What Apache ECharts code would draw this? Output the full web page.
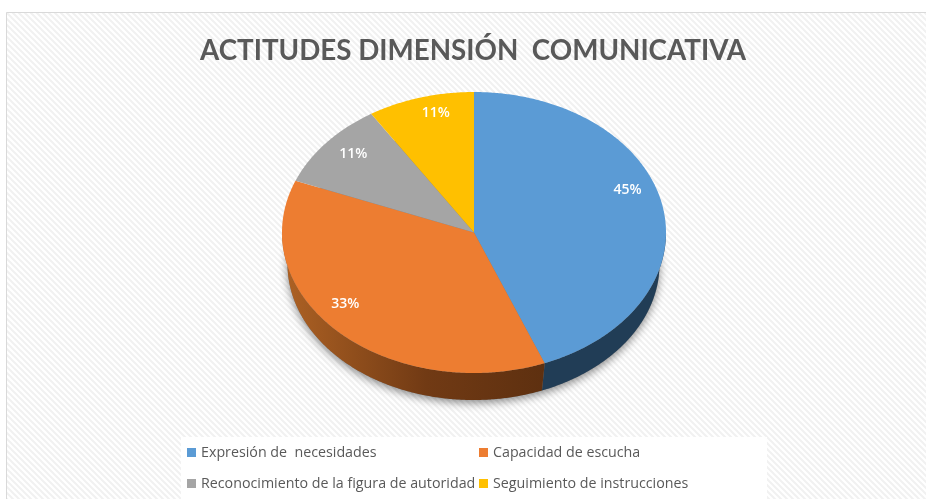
<!DOCTYPE html>
<html>
<head>
<meta charset="utf-8">
<style>html,body{margin:0;padding:0;background:#fff}#c{width:926px;height:499px}</style>
<script src="https://cdn.jsdelivr.net/npm/echarts@6/dist/echarts.min.js"></script>
</head>
<body>
<div id="c"></div>
<script>
// Data
const categories = ['Expresión de  necesidades', 'Capacidad de escucha', 'Reconocimiento de la figura de autoridad', 'Seguimiento de instrucciones'];
const printedPercent = [45, 33, 11, 11];   // labels printed on the slices
const drawnShare = [44, 37, 10, 9];        // slice sweep as drawn in the tilted pie
const colors = ['#5B9BD5', '#ED7D31', '#A5A5A5', '#FFC000'];
const titleText = 'ACTITUDES DIMENSIÓN  COMUNICATIVA';

// Layout
const TOP = {cx: 474, cy: 232.5, rx: 192, ry: 140.5};
const BASE = {cx: 473.5, cy: 264, rx: 186, ry: 136};
const labelRadius = [0.855, 0.84, 0.84, 0.87];
const labelAngleShift = [-10, 8, 2, 3];
const sideFills = [
  '#213D56',
  {type: 'linear', x: 0, y: 0, x2: 1, y2: 0, colorStops: [
    {offset: 0, color: '#AE6224'}, {offset: 0.55, color: '#713A14'}, {offset: 1, color: '#5E3010'}]},
  '#63635F', '#7F6000'
];

const total = drawnShare.reduce((a, b) => a + b, 0);
const pt = (e, deg, k = 1) => {
  const a = deg * Math.PI / 180;
  return [e.cx + e.rx * k * Math.sin(a), e.cy - e.ry * k * Math.cos(a)];
};
const arc = (e, from, to) => {
  const out = [], n = Math.max(2, Math.ceil(Math.abs(to - from) * 2));
  for (let i = 0; i <= n; i++) out.push(pt(e, from + (to - from) * i / n));
  return out;
};

function makeSeries(name, idx) {
  const startDeg = drawnShare.slice(0, idx).reduce((a, b) => a + b, 0) / total * 360;
  return {
    type: 'custom', name, coordinateSystem: 'none', silent: true,
    itemStyle: {color: colors[idx]},
    data: [[drawnShare[idx]]],
    renderItem(params, api) {
      const sweep = api.value(0) / total * 360, endDeg = startDeg + sweep;
      const children = [];
      if (idx === 0) {
        children.push({type: 'polygon', shape: {points: arc(BASE, 0, 360)},
          style: {fill: '#7a7a7a', shadowBlur: 9, shadowColor: 'rgba(0,0,0,0.45)', shadowOffsetY: 3}});
      }
      const visFrom = Math.max(startDeg, 90), visTo = Math.min(endDeg, 270);
      if (visTo > visFrom) {
        children.push({type: 'polygon',
          shape: {points: arc(TOP, visFrom, visTo).concat(arc(BASE, visTo, visFrom))},
          style: {fill: sideFills[idx]}});
      }
      children.push({type: 'polygon',
        shape: {points: [[TOP.cx, TOP.cy]].concat(arc(TOP, startDeg, endDeg))},
        style: {fill: colors[idx]}});
      const [lx, ly] = pt(TOP, startDeg + sweep / 2 + labelAngleShift[idx], labelRadius[idx]);
      children.push({type: 'text', x: lx, y: ly,
        style: {text: printedPercent[idx] + '%', fill: '#fff', align: 'center', verticalAlign: 'middle',
          font: '600 14px "Open Sans"'}});
      return {type: 'group', children};
    }
  };
}

const hatch = document.createElement('canvas');
hatch.width = hatch.height = 6;
(function () {
  const g = hatch.getContext('2d');
  g.fillStyle = '#ffffff'; g.fillRect(0, 0, 6, 6);
  g.strokeStyle = '#f1f1f1'; g.lineWidth = 2;
  g.beginPath();
  g.moveTo(-1, -1); g.lineTo(7, 7);
  g.moveTo(-1, 5); g.lineTo(1, 7);
  g.moveTo(5, -1); g.lineTo(7, 1);
  g.stroke();
})();

const legendBase = {orient: 'vertical', top: 444, itemWidth: 9, itemHeight: 9, itemGap: 14, icon: 'rect',
  textStyle: {color: '#595959', fontFamily: '"Open Sans"', fontSize: 14.25, lineHeight: 17}, selectedMode: false, padding: 0};

const chart = echarts.init(document.getElementById('c'), null, {renderer: 'canvas'});
chart.setOption({
  animation: false,
  backgroundColor: '#ffffff',
  title: {text: titleText, left: 195, top: 32,
    textStyle: {color: '#595959', fontFamily: 'Lato', fontWeight: 'bold', fontSize: 27.75}},
  legend: [
    Object.assign({}, legendBase, {left: 187, data: [categories[0], categories[2]]}),
    Object.assign({}, legendBase, {left: 479, data: [categories[1], categories[3]]})
  ],
  graphic: [
    {type: 'rect', z: -10, shape: {x: 6.5, y: 12.5, width: 930, height: 500},
      style: {fill: {image: hatch, repeat: 'repeat'}, stroke: '#d9d9d9', lineWidth: 1}},
    {type: 'rect', z: -9, shape: {x: 181, y: 437, width: 586, height: 62}, style: {fill: '#ffffff'}}
  ],
  series: categories.map(makeSeries)
});
</script>
</body>
</html>
